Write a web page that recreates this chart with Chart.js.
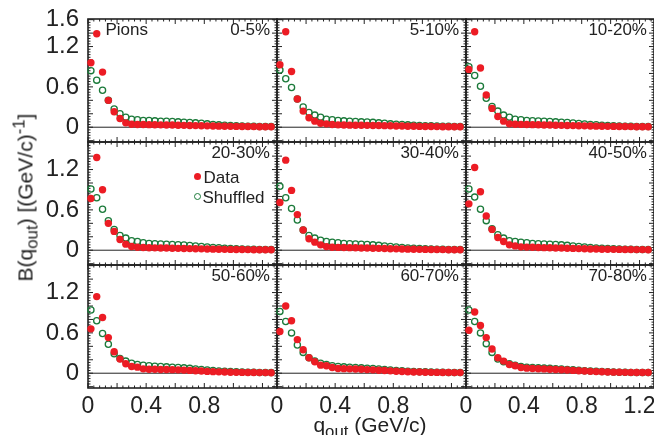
<!DOCTYPE html>
<html>
<head>
<meta charset="utf-8">
<script src="https://cdn.jsdelivr.net/npm/chart.js@4.4.0/dist/chart.umd.min.js"></script>
<style>
  html, body { margin: 0; padding: 0; background: #fff; overflow: hidden; }
  #page { position: relative; width: 654px; height: 435px; overflow: hidden;
          font-family: "Liberation Sans", Arial, sans-serif; color: #222; }
  #page canvas { position: absolute; }
  .lab { position: absolute; font-size: 17px; line-height: 17px; white-space: nowrap; z-index: 5; }
  .title { position: absolute; font-size: 21px; line-height: 21px; white-space: nowrap;
           text-align: center; z-index: 5; }
  .title sub { font-size: 0.8em; vertical-align: -0.3em; line-height: 0; }
  .title sup { font-size: 0.8em; vertical-align: 0.45em; line-height: 0; }
  .mk { position: absolute; width: 7px; height: 7px; border-radius: 50%; box-sizing: border-box; z-index: 5; }
</style>
</head>
<body>
<div id="page"></div>
<script>
(function () {
  "use strict";

  // bin centres, GeV/c
  const qOut = [0.02, 0.06, 0.10, 0.14, 0.18, 0.22, 0.26, 0.30, 0.34, 0.38, 0.42, 0.46,
    0.50, 0.54, 0.58, 0.62, 0.66, 0.70, 0.74, 0.78, 0.82, 0.86, 0.90, 0.94,
    0.98, 1.02, 1.06, 1.10, 1.14, 1.18, 1.22, 1.26];

  const centralities = ["0-5%", "5-10%", "10-20%", "20-30%", "30-40%", "40-50%",
    "50-60%", "60-70%", "70-80%"];

  const data0_5 = [0.96, 1.39, 0.82, 0.40, 0.23, 0.13, 0.065, 0.045, 0.04, 0.04, 0.038, 0.036,
    0.035, 0.033, 0.032, 0.03, 0.028, 0.026, 0.024, 0.022, 0.02, 0.018, 0.016, 0.015,
    0.013, 0.012, 0.011, 0.01, 0.009, 0.008, 0.008, 0.007];
  const shuf0_5 = [0.84, 0.70, 0.55, 0.40, 0.27, 0.20, 0.15, 0.12, 0.11, 0.10, 0.10, 0.095,
    0.09, 0.088, 0.085, 0.08, 0.075, 0.07, 0.065, 0.06, 0.05, 0.04, 0.035, 0.03,
    0.025, 0.02, 0.018, 0.015, 0.013, 0.012, 0.01, 0.01];

  const data5_10 = [0.93, 1.42, 0.83, 0.42, 0.24, 0.14, 0.09, 0.06, 0.05, 0.04, 0.035, 0.033,
    0.031, 0.03, 0.029, 0.028, 0.026, 0.025, 0.023, 0.021, 0.019, 0.017, 0.015, 0.014,
    0.012, 0.011, 0.01, 0.009, 0.008, 0.008, 0.007, 0.007];
  const shuf5_10 = [0.85, 0.72, 0.59, 0.42, 0.30, 0.22, 0.18, 0.15, 0.12, 0.11, 0.10, 0.095,
    0.09, 0.085, 0.08, 0.078, 0.072, 0.065, 0.06, 0.05, 0.045, 0.04, 0.035, 0.03,
    0.025, 0.022, 0.02, 0.017, 0.015, 0.013, 0.012, 0.011];

  const data10_20 = [0.86, 1.42, 0.88, 0.48, 0.28, 0.16, 0.09, 0.05, 0.045, 0.042, 0.04, 0.038,
    0.036, 0.034, 0.032, 0.03, 0.028, 0.026, 0.024, 0.022, 0.02, 0.018, 0.016, 0.014,
    0.013, 0.012, 0.011, 0.01, 0.009, 0.008, 0.008, 0.007];
  const shuf10_20 = [0.90, 0.77, 0.61, 0.43, 0.31, 0.24, 0.18, 0.15, 0.12, 0.11, 0.10, 0.097,
    0.093, 0.09, 0.085, 0.08, 0.075, 0.07, 0.062, 0.055, 0.048, 0.042, 0.036, 0.03,
    0.026, 0.022, 0.019, 0.016, 0.014, 0.012, 0.011, 0.01];

  const data20_30 = [0.77, 1.38, 0.90, 0.40, 0.28, 0.16, 0.09, 0.055, 0.045, 0.04, 0.037, 0.035,
    0.033, 0.032, 0.03, 0.028, 0.026, 0.024, 0.022, 0.02, 0.018, 0.016, 0.014, 0.013,
    0.012, 0.011, 0.01, 0.009, 0.008, 0.008, 0.007, 0.007];
  const shuf20_30 = [0.91, 0.78, 0.61, 0.44, 0.31, 0.22, 0.18, 0.14, 0.13, 0.11, 0.10, 0.097,
    0.093, 0.09, 0.086, 0.082, 0.077, 0.07, 0.063, 0.055, 0.048, 0.042, 0.036, 0.03,
    0.026, 0.022, 0.019, 0.016, 0.014, 0.012, 0.011, 0.01];

  const data30_40 = [0.71, 1.34, 0.89, 0.53, 0.30, 0.17, 0.12, 0.08, 0.054, 0.045, 0.042, 0.04,
    0.038, 0.036, 0.034, 0.032, 0.03, 0.028, 0.025, 0.022, 0.02, 0.018, 0.016, 0.014,
    0.013, 0.012, 0.011, 0.01, 0.009, 0.008, 0.008, 0.007];
  const shuf30_40 = [0.95, 0.78, 0.62, 0.45, 0.30, 0.22, 0.18, 0.15, 0.13, 0.12, 0.11, 0.10,
    0.097, 0.093, 0.09, 0.085, 0.08, 0.072, 0.064, 0.055, 0.047, 0.04, 0.034, 0.029,
    0.025, 0.021, 0.018, 0.016, 0.014, 0.012, 0.011, 0.01];

  const data40_50 = [0.69, 1.23, 0.87, 0.51, 0.31, 0.19, 0.13, 0.08, 0.064, 0.05, 0.046, 0.043,
    0.04, 0.038, 0.036, 0.034, 0.032, 0.03, 0.027, 0.024, 0.021, 0.019, 0.017, 0.015,
    0.014, 0.013, 0.012, 0.011, 0.01, 0.009, 0.009, 0.008];
  const shuf40_50 = [0.91, 0.79, 0.61, 0.44, 0.32, 0.23, 0.18, 0.14, 0.13, 0.12, 0.11, 0.10,
    0.097, 0.093, 0.09, 0.085, 0.08, 0.072, 0.064, 0.055, 0.047, 0.04, 0.034, 0.029,
    0.025, 0.021, 0.018, 0.016, 0.014, 0.012, 0.011, 0.01];

  const data50_60 = [0.66, 1.14, 0.83, 0.53, 0.32, 0.21, 0.14, 0.10, 0.09, 0.065, 0.06, 0.058,
    0.056, 0.055, 0.053, 0.05, 0.046, 0.042, 0.037, 0.032, 0.027, 0.023, 0.02, 0.017,
    0.015, 0.013, 0.012, 0.011, 0.01, 0.009, 0.009, 0.008];
  const shuf50_60 = [0.94, 0.78, 0.59, 0.43, 0.29, 0.22, 0.18, 0.15, 0.13, 0.12, 0.11, 0.105,
    0.10, 0.095, 0.09, 0.085, 0.08, 0.072, 0.064, 0.055, 0.047, 0.04, 0.034, 0.029,
    0.025, 0.021, 0.018, 0.016, 0.014, 0.012, 0.011, 0.01];

  const data60_70 = [0.62, 1.00, 0.78, 0.50, 0.35, 0.23, 0.17, 0.12, 0.11, 0.085, 0.07, 0.068,
    0.065, 0.062, 0.058, 0.054, 0.05, 0.045, 0.04, 0.035, 0.03, 0.026, 0.022, 0.019,
    0.017, 0.015, 0.013, 0.012, 0.011, 0.01, 0.009, 0.009];
  const shuf60_70 = [0.92, 0.77, 0.60, 0.42, 0.31, 0.23, 0.18, 0.15, 0.13, 0.11, 0.10, 0.095,
    0.09, 0.085, 0.08, 0.075, 0.07, 0.063, 0.056, 0.049, 0.042, 0.036, 0.031, 0.027,
    0.023, 0.02, 0.017, 0.015, 0.013, 0.012, 0.011, 0.01];

  const data70_80 = [0.64, 0.91, 0.71, 0.53, 0.36, 0.23, 0.18, 0.13, 0.11, 0.085, 0.075, 0.07,
    0.067, 0.064, 0.06, 0.056, 0.052, 0.047, 0.042, 0.037, 0.032, 0.028, 0.024, 0.021,
    0.018, 0.016, 0.014, 0.013, 0.012, 0.011, 0.01, 0.01];
  const shuf70_80 = [0.94, 0.77, 0.60, 0.44, 0.31, 0.21, 0.17, 0.14, 0.12, 0.10, 0.09, 0.085,
    0.08, 0.076, 0.072, 0.068, 0.063, 0.057, 0.05, 0.044, 0.038, 0.033, 0.028, 0.024,
    0.021, 0.018, 0.016, 0.014, 0.012, 0.011, 0.01, 0.01];

  const dataSeries = [data0_5, data5_10, data10_20, data20_30, data30_40, data40_50,
    data50_60, data60_70, data70_80];
  const shufSeries = [shuf0_5, shuf5_10, shuf10_20, shuf20_30, shuf30_40, shuf40_50,
    shuf50_60, shuf60_70, shuf70_80];

  const yTicksTop = [0, 0.6, 1.2, 1.6];
  const yTicks = [0, 0.6, 1.2];
  const xTicks = [0, 0.4, 0.8];
  const xTicksLast = [0, 0.4, 0.8, 1.2];

  const RED = "#ec1c24";
  const GREEN = "#1b7a3a";
  const INK = "#222";

  // panel frames in page pixels
  const colLeft = [88, 277, 466];
  const colW = [189, 189, 188];
  const rowTop = [19, 142, 265];
  const rowH = 123;
  const PAD_L = 88, PAD_T = 19, PAD_R = 20, PAD_B = 48;
  const X_MIN = 0, X_MAX = 1.3, Y_MIN = -0.22, Y_MAX = 1.61;

  Chart.defaults.font.family = '"Liberation Sans", Arial, sans-serif';
  Chart.defaults.color = INK;

  const page = document.getElementById("page");

  function fmt(v) {
    return v === 0 ? "0" : v.toFixed(1);
  }

  // frame, zero line and inward ticks on all four sides (ROOT style)
  const framePlugin = {
    id: "frame",
    beforeDatasetsDraw(chart) {
      const ctx = chart.ctx;
      const a = chart.chartArea;
      const xs = chart.scales.x;
      const ys = chart.scales.y;
      ctx.save();
      ctx.strokeStyle = INK;
      ctx.lineWidth = 1;
      const y0 = ys.getPixelForValue(0);
      ctx.beginPath();
      ctx.moveTo(a.left, y0);
      ctx.lineTo(a.right, y0);
      ctx.stroke();

      ctx.beginPath();
      for (let i = 0; i * 0.04 <= X_MAX + 1e-9; i++) {
        const px = xs.getPixelForValue(i * 0.04);
        const len = i % 5 === 0 ? 5 : 2.5;
        ctx.moveTo(px, a.bottom);
        ctx.lineTo(px, a.bottom - len);
        ctx.moveTo(px, a.top);
        ctx.lineTo(px, a.top + len);
      }
      for (let i = -5; i * 0.04 <= Y_MAX + 1e-9; i++) {
        const v = i * 0.04;
        if (v < Y_MIN) continue;
        const py = ys.getPixelForValue(v);
        const len = i % 5 === 0 ? 5 : 2.5;
        ctx.moveTo(a.left, py);
        ctx.lineTo(a.left + len, py);
        ctx.moveTo(a.right, py);
        ctx.lineTo(a.right - len, py);
      }
      ctx.stroke();

      ctx.lineWidth = 1.6;
      ctx.strokeRect(a.left, a.top, a.right - a.left, a.bottom - a.top);
      ctx.restore();
    },
  };

  function points(ys) {
    return qOut.map(function (q, i) {
      return { x: q, y: ys[i] };
    });
  }

  function makePanel(r, c) {
    const k = r * 3 + c;
    const w = PAD_L + colW[c] + PAD_R;
    const h = PAD_T + rowH + PAD_B;
    const canvas = document.createElement("canvas");
    canvas.width = w;
    canvas.height = h;
    canvas.style.width = w + "px";
    canvas.style.height = h + "px";
    canvas.style.left = colLeft[c] - PAD_L + "px";
    canvas.style.top = rowTop[r] - PAD_T + "px";
    page.appendChild(canvas);

    const xLabels = c === 2 ? xTicksLast : xTicks;
    const yLabels = r === 0 ? yTicksTop : yTicks;

    new Chart(canvas, {
      type: "scatter",
      data: {
        datasets: [
          {
            label: "Data",
            data: points(dataSeries[k]),
            pointRadius: 3.7,
            pointBackgroundColor: RED,
            pointBorderColor: RED,
            pointBorderWidth: 0,
            clip: false,
          },
          {
            label: "Shuffled",
            data: points(shufSeries[k]),
            pointRadius: 3.1,
            pointBackgroundColor: "rgba(255,255,255,0)",
            pointBorderColor: GREEN,
            pointBorderWidth: 1.3,
            clip: false,
          },
        ],
      },
      options: {
        responsive: false,
        animation: false,
        events: [],
        layout: { autoPadding: false, padding: { left: 0, top: PAD_T, right: PAD_R, bottom: 0 } },
        plugins: { legend: { display: false }, tooltip: { enabled: false } },
        scales: {
          x: {
            type: "linear",
            min: X_MIN,
            max: X_MAX,
            grid: { display: false, drawTicks: false },
            border: { display: false },
            ticks: { display: r === 2, padding: 5, color: INK, font: { size: 23 }, maxRotation: 0, callback: fmt },
            afterBuildTicks: function (s) {
              s.ticks = xLabels.map(function (v) { return { value: v }; });
            },
            afterFit: function (s) {
              s.height = PAD_B;
              s.paddingLeft = 0;
              s.paddingRight = 0;
              s.paddingTop = 0;
              s.paddingBottom = 0;
            },
          },
          y: {
            type: "linear",
            min: Y_MIN,
            max: Y_MAX,
            grid: { display: false, drawTicks: false },
            border: { display: false },
            ticks: { display: c === 0, padding: 9, color: INK, font: { size: 24 }, callback: fmt },
            afterBuildTicks: function (s) {
              s.ticks = yLabels.map(function (v) { return { value: v }; });
            },
            afterFit: function (s) {
              s.width = PAD_L;
              s.paddingLeft = 0;
              s.paddingRight = 0;
              s.paddingTop = 0;
              s.paddingBottom = 0;
            },
          },
        },
      },
      plugins: [framePlugin],
    });

    // centrality label, upper right of the frame
    const lab = document.createElement("div");
    lab.className = "lab";
    lab.textContent = centralities[k];
    lab.style.left = colLeft[c] + "px";
    lab.style.width = colW[c] - 7 + "px";
    lab.style.textAlign = "right";
    lab.style.top = rowTop[r] + 2 + "px";
    page.appendChild(lab);
  }

  for (let r = 0; r < 3; r++) {
    for (let c = 0; c < 3; c++) {
      makePanel(r, c);
    }
  }

  function addHtml(html) {
    page.insertAdjacentHTML("beforeend", html);
  }

  addHtml('<div class="lab" style="left:105.5px;top:21px">Pions</div>');

  // legend in the 20-30% panel
  addHtml('<div class="mk" style="left:193.8px;top:172.5px;background:' + RED + '"></div>');
  addHtml('<div class="lab" style="left:203.5px;top:169px">Data</div>');
  addHtml('<div class="mk" style="left:193.8px;top:193.2px;border:1.2px solid ' + GREEN + '"></div>');
  addHtml('<div class="lab" style="left:202.5px;top:188.5px">Shuffled</div>');

  // axis titles
  addHtml('<div class="title" style="left:270px;top:414px;width:200px">q<sub>out</sub> (GeV/c)</div>');
  addHtml('<div class="title" style="left:-105px;top:186.5px;width:260px;transform:rotate(-90deg)">' +
    'B(q<sub>out</sub>) [(GeV/c)<sup>-1</sup>]</div>');
})();
</script>
</body>
</html>
